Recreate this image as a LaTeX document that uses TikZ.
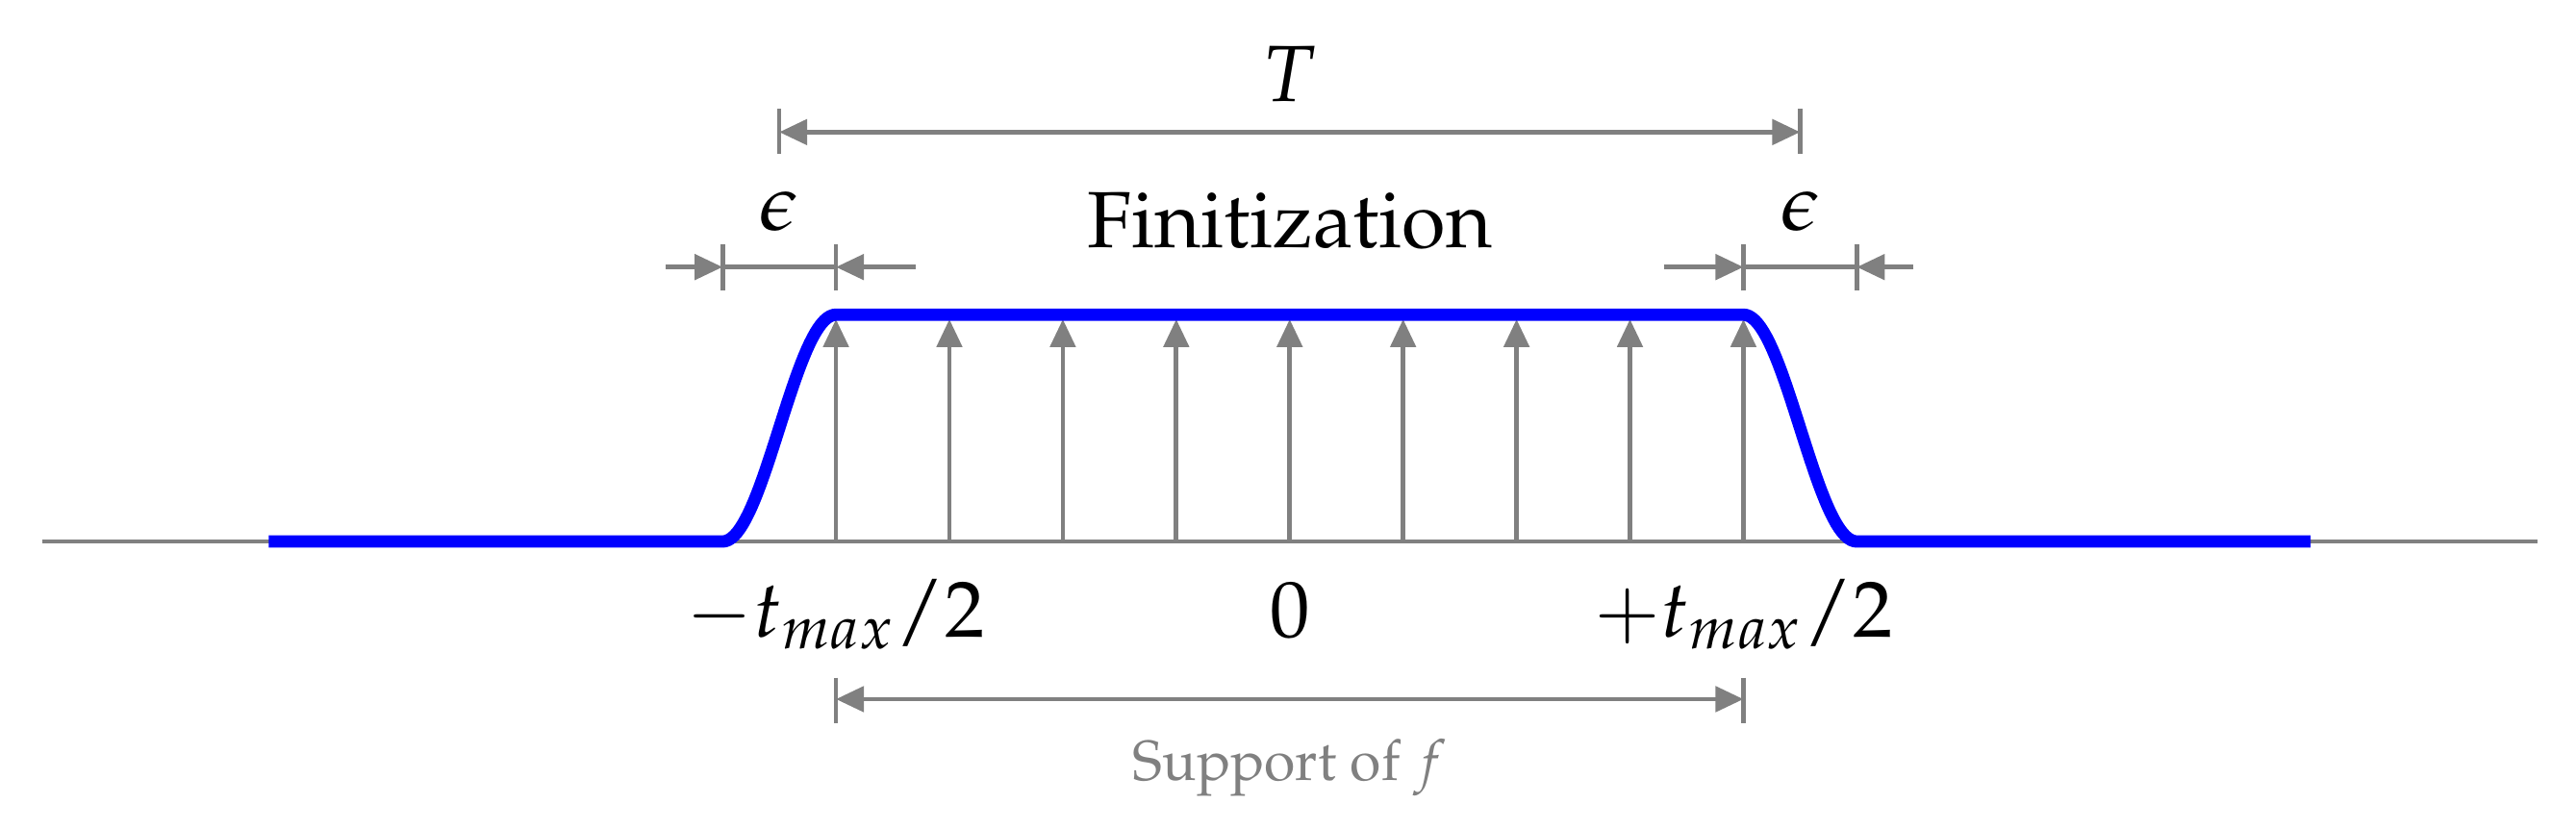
\documentclass[tikz,border=0pt]{standalone}
\usepackage[T1]{fontenc}
\usepackage{mathpazo}
\usetikzlibrary{arrows.meta}
\begin{document}
\begin{tikzpicture}[x=1cm,y=1cm,
  gl/.style={draw=gray, line width=1.15pt},
  tip/.tip={Triangle[length=7pt,width=6.3pt]},
  arr/.style={gl, -tip},
  dimarr/.style={gl, tip-tip},
  curve/.style={draw=blue, line width=3.1pt, line join=round},
  big/.style={font=\fontsize{20}{24}\selectfont, inner sep=0pt},
  small/.style={font=\fontsize{14.2}{17}\selectfont, text=gray, inner sep=0pt}
]
\useasboundingbox (-11.37,-2.53) rectangle (11.34,4.775);

% axis
\coordinate (axL) at (-11,0);
\coordinate (axR) at (11,0);
\draw[gl] (axL) -- (axR);

% sample spikes
\foreach \i [count=\k] in {-4,...,4} {
  \coordinate (sb\k) at (\i,0);
  \coordinate (st\k) at (\i,1.96);
  \draw[arr] (sb\k) -- (st\k);
}

% window function
\draw[curve] (-9,0) -- (-5,0)
  -- plot[domain=-5:-4, samples=40] (\x,{1-cos(180*(\x+5))})
  -- (4,2)
  -- plot[domain=4:5, samples=40] (\x,{1+cos(180*(\x-4))})
  -- (9,0);

% left epsilon
\coordinate (le1a) at (-5,2.21); \coordinate (le1b) at (-5,2.62);
\coordinate (le2a) at (-4,2.21); \coordinate (le2b) at (-4,2.62);
\draw[gl] (le1a) -- (le1b);
\draw[gl] (le2a) -- (le2b);
\coordinate (lo1) at (-5.5,2.42); \coordinate (li1) at (-5,2.42);
\coordinate (li2) at (-4,2.42);   \coordinate (lo2) at (-3.3,2.42);
\draw[gl] (li1) -- (li2);
\draw[arr] (lo1) -- (li1);
\draw[arr] (lo2) -- (li2);
\node[big, anchor=base] (epsL) at (-4.5,2.74) {$\epsilon$};

% right epsilon
\coordinate (re1a) at (4,2.21); \coordinate (re1b) at (4,2.62);
\coordinate (re2a) at (5,2.21); \coordinate (re2b) at (5,2.62);
\draw[gl] (re1a) -- (re1b);
\draw[gl] (re2a) -- (re2b);
\coordinate (ro1) at (3.3,2.42); \coordinate (ri1) at (4,2.42);
\coordinate (ri2) at (5,2.42);   \coordinate (ro2) at (5.5,2.42);
\draw[gl] (ri1) -- (ri2);
\draw[arr] (ro1) -- (ri1);
\draw[arr] (ro2) -- (ri2);
\node[big, anchor=base] (epsR) at (4.5,2.74) {$\epsilon$};

\node[big, anchor=base] (fin) at (0,2.59) {Finitization};

% T
\coordinate (Ta1) at (-4.5,3.42); \coordinate (Ta2) at (-4.5,3.82);
\coordinate (Tb1) at (4.5,3.42);  \coordinate (Tb2) at (4.5,3.82);
\draw[gl] (Ta1) -- (Ta2);
\draw[gl] (Tb1) -- (Tb2);
\coordinate (TL) at (-4.5,3.61); \coordinate (TR) at (4.5,3.61);
\draw[dimarr] (TL) -- (TR);
\node[big, anchor=base] (Tlab) at (0,3.88) {$T$};

% tick labels
\node[big, anchor=base] (lm) at (-4,-0.84) {$-t_{max}/2$};
\node[big, anchor=base] (l0) at (0,-0.84) {$0$};
\node[big, anchor=base] (lp) at (4,-0.84) {$+t_{max}/2$};

% support
\coordinate (Sa1) at (-4,-1.2); \coordinate (Sa2) at (-4,-1.6);
\coordinate (Sb1) at (4,-1.2);  \coordinate (Sb2) at (4,-1.6);
\draw[gl] (Sa1) -- (Sa2);
\draw[gl] (Sb1) -- (Sb2);
\coordinate (SL) at (-4,-1.39); \coordinate (SR) at (4,-1.39);
\draw[dimarr] (SL) -- (SR);
\node[small, anchor=base] (sup) at (0,-2.11) {Support of $f$};
\end{tikzpicture}
\end{document}
